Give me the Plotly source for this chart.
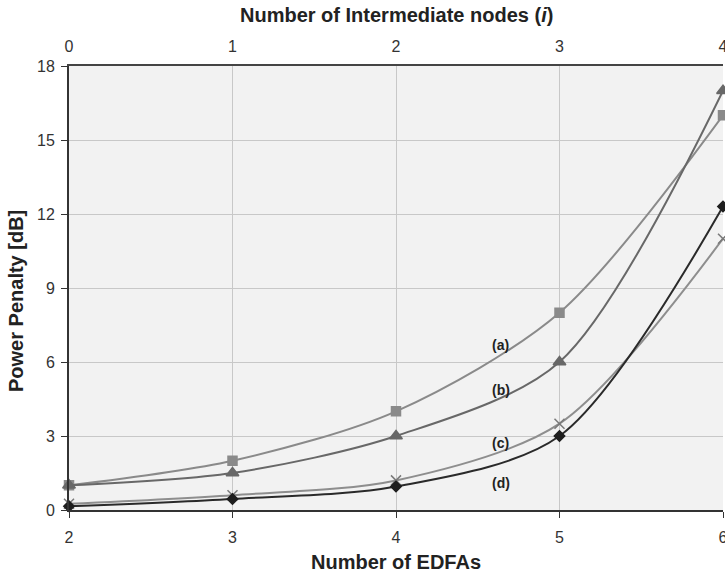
import plotly.graph_objects as go

# Number of EDFAs (bottom axis) and intermediate nodes (top axis)
edfas = [2, 3, 4, 5, 6]
nodes = [0, 1, 2, 3, 4]

# Power penalty [dB] per curve
penalty_a = [1.0, 2.0, 4.0, 8.0, 16.0]
penalty_b = [1.0, 1.5, 3.0, 6.0, 17.0]
penalty_c = [0.25, 0.6, 1.2, 3.5, 11.0]
penalty_d = [0.15, 0.45, 0.95, 3.0, 12.3]

# Curve label text and positions (data coordinates)
curve_labels = ["(a)", "(b)", "(c)", "(d)"]
label_x = [4.64, 4.64, 4.64, 4.64]
label_y = [6.7, 4.86, 2.72, 1.09]

FONT = "Liberation Sans, Arial, sans-serif"

fig = go.Figure()

series = [
    (penalty_a, "square", 9, "#8a8a8a", "#8a8a8a", 2),
    (penalty_b, "triangle-up", 11, "#686868", "#686868", 2),
    (penalty_c, "x-thin", 10, "#7a7a7a", "#8e8e8e", 2),
    (penalty_d, "diamond", 8, "#1e1e1e", "#2a2a2a", 2),
]

for vals, sym, size, mcol, lcol, lw in series:
    fig.add_trace(go.Scatter(
        x=edfas, y=vals, mode="lines+markers",
        line=dict(color=lcol, width=lw, shape="spline", smoothing=0.85),
        marker=dict(symbol=sym, size=size, color=mcol,
                    line=dict(color=mcol, width=1.5)),
        cliponaxis=False, showlegend=False, hoverinfo="x+y",
    ))

# Invisible trace so the top node axis is drawn
fig.add_trace(go.Scatter(
    x=nodes, y=[0] * len(nodes), xaxis="x2", mode="markers",
    marker=dict(opacity=0), showlegend=False, hoverinfo="skip",
))

for txt, lx, ly in zip(curve_labels, label_x, label_y):
    fig.add_annotation(x=lx, y=ly, text="<b>" + txt + "</b>", showarrow=False,
                       font=dict(family=FONT, size=14, color="#222"))

title_font = dict(family=FONT, size=20, color="#222")

# Axis titles
fig.add_annotation(text="<b>Number of Intermediate nodes (<i>i</i>)</b>",
                   xref="paper", yref="paper", x=0.5, y=1.115,
                   xanchor="center", yanchor="middle",
                   showarrow=False, font=title_font)
fig.add_annotation(text="<b>Number of EDFAs</b>",
                   xref="paper", yref="paper", x=0.5, y=-0.117,
                   xanchor="center", yanchor="middle",
                   showarrow=False, font=title_font)
fig.add_annotation(text="<b>Power Penalty [dB]</b>", textangle=-90,
                   xref="paper", yref="paper", x=-0.08, y=0.47,
                   xanchor="center", yanchor="middle",
                   showarrow=False, font=title_font)

tick_font = dict(family=FONT, size=16, color="#333")

fig.update_layout(
    width=725, height=574,
    margin=dict(l=69, r=2, t=66, b=64, autoexpand=False),
    paper_bgcolor="white",
    plot_bgcolor="#f2f2f2",
    font=dict(family=FONT, size=16, color="#333"),
    xaxis=dict(
        range=[2, 6], tickvals=edfas, ticks="outside", ticklen=6,
        tickcolor="#333", showline=True, linecolor="#333", linewidth=2,
        showgrid=True, gridcolor="#c8c8c8", gridwidth=1, zeroline=False,
        tickfont=tick_font, ticklabeloverflow="allow", ticklabelstandoff=6,
        automargin=False,
    ),
    xaxis2=dict(
        range=[0, 4], tickvals=nodes, overlaying="x", side="top",
        showline=True, linecolor="#444", linewidth=2, showgrid=False,
        zeroline=False, ticks="", tickfont=tick_font,
        ticklabeloverflow="allow", ticklabelstandoff=6, automargin=False,
    ),
    yaxis=dict(
        range=[0, 18], tickvals=[0, 3, 6, 9, 12, 15, 18], ticks="outside",
        ticklen=6, tickcolor="#333", showline=True, linecolor="#333",
        linewidth=2, showgrid=True, gridcolor="#c8c8c8", gridwidth=1,
        zeroline=False, tickfont=tick_font, ticklabelstandoff=3,
        automargin=False,
    ),
)

fig.write_html("out.html")
